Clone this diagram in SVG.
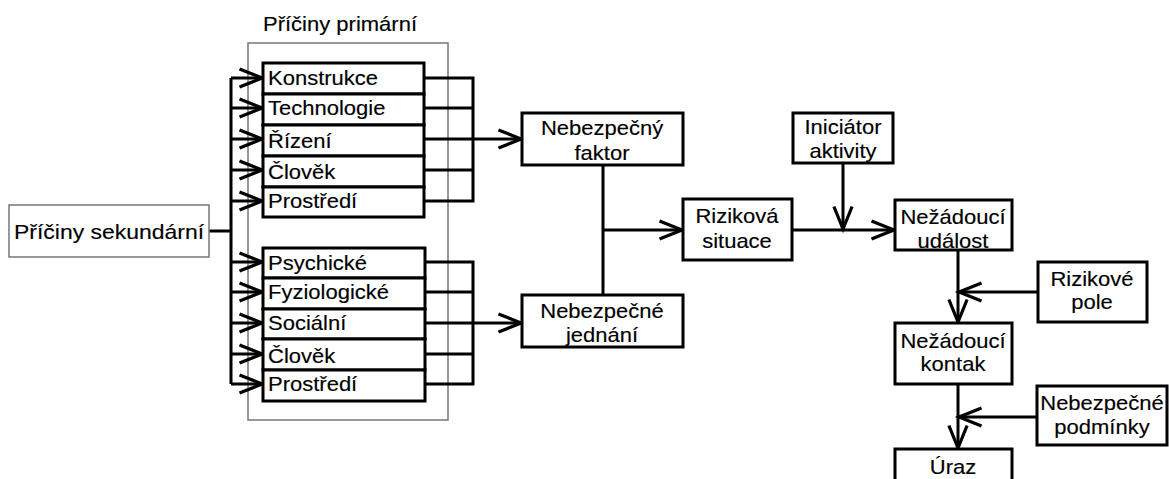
<svg xmlns="http://www.w3.org/2000/svg" width="1169" height="479" viewBox="0 0 1169 479">
<style>
.box{fill:#fff;stroke:#000;stroke-width:3}
.gbox{fill:none;stroke:#777;stroke-width:1.5}
.wire{fill:none;stroke:#000;stroke-width:3}
.arr{marker-end:url(#ah)}
text{font-family:"Liberation Sans",Arial,sans-serif;font-size:20px;fill:#000;stroke:#000;stroke-width:0.15}
.c{text-anchor:middle}
</style>
<defs>
<marker id="ah" markerUnits="userSpaceOnUse" markerWidth="30" markerHeight="30" viewBox="-24 -12 28 24" refX="0" refY="0" orient="auto" overflow="visible">
<path d="M-21,-8.5 L0,0 L-21,8.5" fill="none" stroke="#000" stroke-width="3"/>
</marker>
</defs>
<rect width="1169" height="479" fill="#fff"/>

<g id="frame-primary">
<rect class="gbox" x="248" y="43" width="200" height="377"/>
<text transform="translate(340 31) scale(1.1 1)" class="c">Příčiny primární</text>
</g>

<g id="connectors">
<path class="wire" d="M209,231 H231 M231,78 V384"/>
<path class="wire arr" d="M231,78 H262"/>
<path class="wire arr" d="M231,108 H262"/>
<path class="wire arr" d="M231,139 H262"/>
<path class="wire arr" d="M231,170 H262"/>
<path class="wire arr" d="M231,201 H262"/>
<path class="wire arr" d="M231,262 H262"/>
<path class="wire arr" d="M231,292 H262"/>
<path class="wire arr" d="M231,323 H262"/>
<path class="wire arr" d="M231,354 H262"/>
<path class="wire arr" d="M231,384 H262"/>
<path class="wire" d="M424,78 H473 V201 H424 M424,108 H473 M424,170 H473"/>
<path class="wire arr" d="M424,139 H521"/>
<path class="wire" d="M424,262 H473 V384 H424 M424,292 H473 M424,354 H473"/>
<path class="wire arr" d="M424,323 H521"/>
<path class="wire" d="M603,165 V295"/>
<path class="wire arr" d="M603,230 H682"/>
<path class="wire arr" d="M792,230 H894"/>
<path class="wire arr" d="M843,163 V229"/>
<path class="wire arr" d="M958,250 V322"/>
<path class="wire arr" d="M1038,292 H959"/>
<path class="wire arr" d="M958,384 V448"/>
<path class="wire arr" d="M1037,417 H959"/>
</g>

<g id="n-sekundarni">
<rect class="gbox" x="9" y="205" width="200" height="52"/>
<text transform="translate(109 239) scale(1.12 1)" class="c" style="font-size:20.5px">Příčiny sekundární</text>
</g>

<g id="n-konstrukce"><rect class="box" x="263" y="63" width="161" height="31"/><text transform="translate(268 85) scale(1.1 1)">Konstrukce</text></g>
<g id="n-technologie"><rect class="box" x="263" y="94" width="161" height="31"/><text transform="translate(268 115) scale(1.1 1)">Technologie</text></g>
<g id="n-rizeni"><rect class="box" x="263" y="125" width="161" height="31"/><text transform="translate(268 148) scale(1.1 1)">Řízení</text></g>
<g id="n-clovek1"><rect class="box" x="263" y="156" width="161" height="31"/><text transform="translate(268 179) scale(1.1 1)">Člověk</text></g>
<g id="n-prostredi1"><rect class="box" x="263" y="187" width="161" height="30"/><text transform="translate(268 208) scale(1.1 1)">Prostředí</text></g>

<g id="n-psychicke"><rect class="box" x="263" y="248" width="162" height="30"/><text transform="translate(268 270) scale(1.1 1)">Psychické</text></g>
<g id="n-fyziologicke"><rect class="box" x="263" y="278" width="162" height="31"/><text transform="translate(268 299) scale(1.1 1)">Fyziologické</text></g>
<g id="n-socialni"><rect class="box" x="263" y="309" width="162" height="30"/><text transform="translate(268 330) scale(1.1 1)">Sociální</text></g>
<g id="n-clovek2"><rect class="box" x="263" y="339" width="162" height="31"/><text transform="translate(268 363) scale(1.1 1)">Člověk</text></g>
<g id="n-prostredi2"><rect class="box" x="263" y="370" width="162" height="31"/><text transform="translate(268 391) scale(1.1 1)">Prostředí</text></g>

<g id="n-faktor"><rect class="box" x="522" y="113" width="161" height="52"/>
<text transform="translate(602 135) scale(1.1 1)" class="c">Nebezpečný</text>
<text transform="translate(602 160) scale(1.1 1)" class="c">faktor</text></g>

<g id="n-jednani"><rect class="box" x="522" y="295" width="161" height="52"/>
<text transform="translate(602 318) scale(1.1 1)" class="c">Nebezpečné</text>
<text transform="translate(602 342) scale(1.1 1)" class="c">jednání</text></g>

<g id="n-situace"><rect class="box" x="683" y="199" width="109" height="61"/>
<text transform="translate(737 223) scale(1.1 1)" class="c">Riziková</text>
<text transform="translate(737 248) scale(1.1 1)" class="c">situace</text></g>

<g id="n-iniciator"><rect class="box" x="793" y="113" width="100" height="50"/>
<text transform="translate(843 134) scale(1.1 1)" class="c">Iniciátor</text>
<text transform="translate(843 158) scale(1.1 1)" class="c">aktivity</text></g>

<g id="n-udalost"><rect class="box" x="895" y="200" width="117" height="50"/>
<text transform="translate(953 224) scale(1.1 1)" class="c">Nežádoucí</text>
<text transform="translate(953 248) scale(1.1 1)" class="c">událost</text></g>

<g id="n-pole"><rect class="box" x="1038" y="262" width="109" height="60"/>
<text transform="translate(1092 286) scale(1.1 1)" class="c">Rizikové</text>
<text transform="translate(1092 309) scale(1.1 1)" class="c">pole</text></g>

<g id="n-kontak"><rect class="box" x="895" y="323" width="117" height="61"/>
<text transform="translate(953 348) scale(1.1 1)" class="c">Nežádoucí</text>
<text transform="translate(953 371) scale(1.1 1)" class="c">kontak</text></g>

<g id="n-podminky"><rect class="box" x="1037" y="386" width="130" height="59"/>
<text transform="translate(1102 410) scale(1.1 1)" class="c">Nebezpečné</text>
<text transform="translate(1102 434) scale(1.1 1)" class="c">podmínky</text></g>

<g id="n-uraz"><rect class="box" x="895" y="449" width="117" height="40"/>
<text transform="translate(953 474) scale(1.1 1)" class="c">Úraz</text></g>
</svg>
